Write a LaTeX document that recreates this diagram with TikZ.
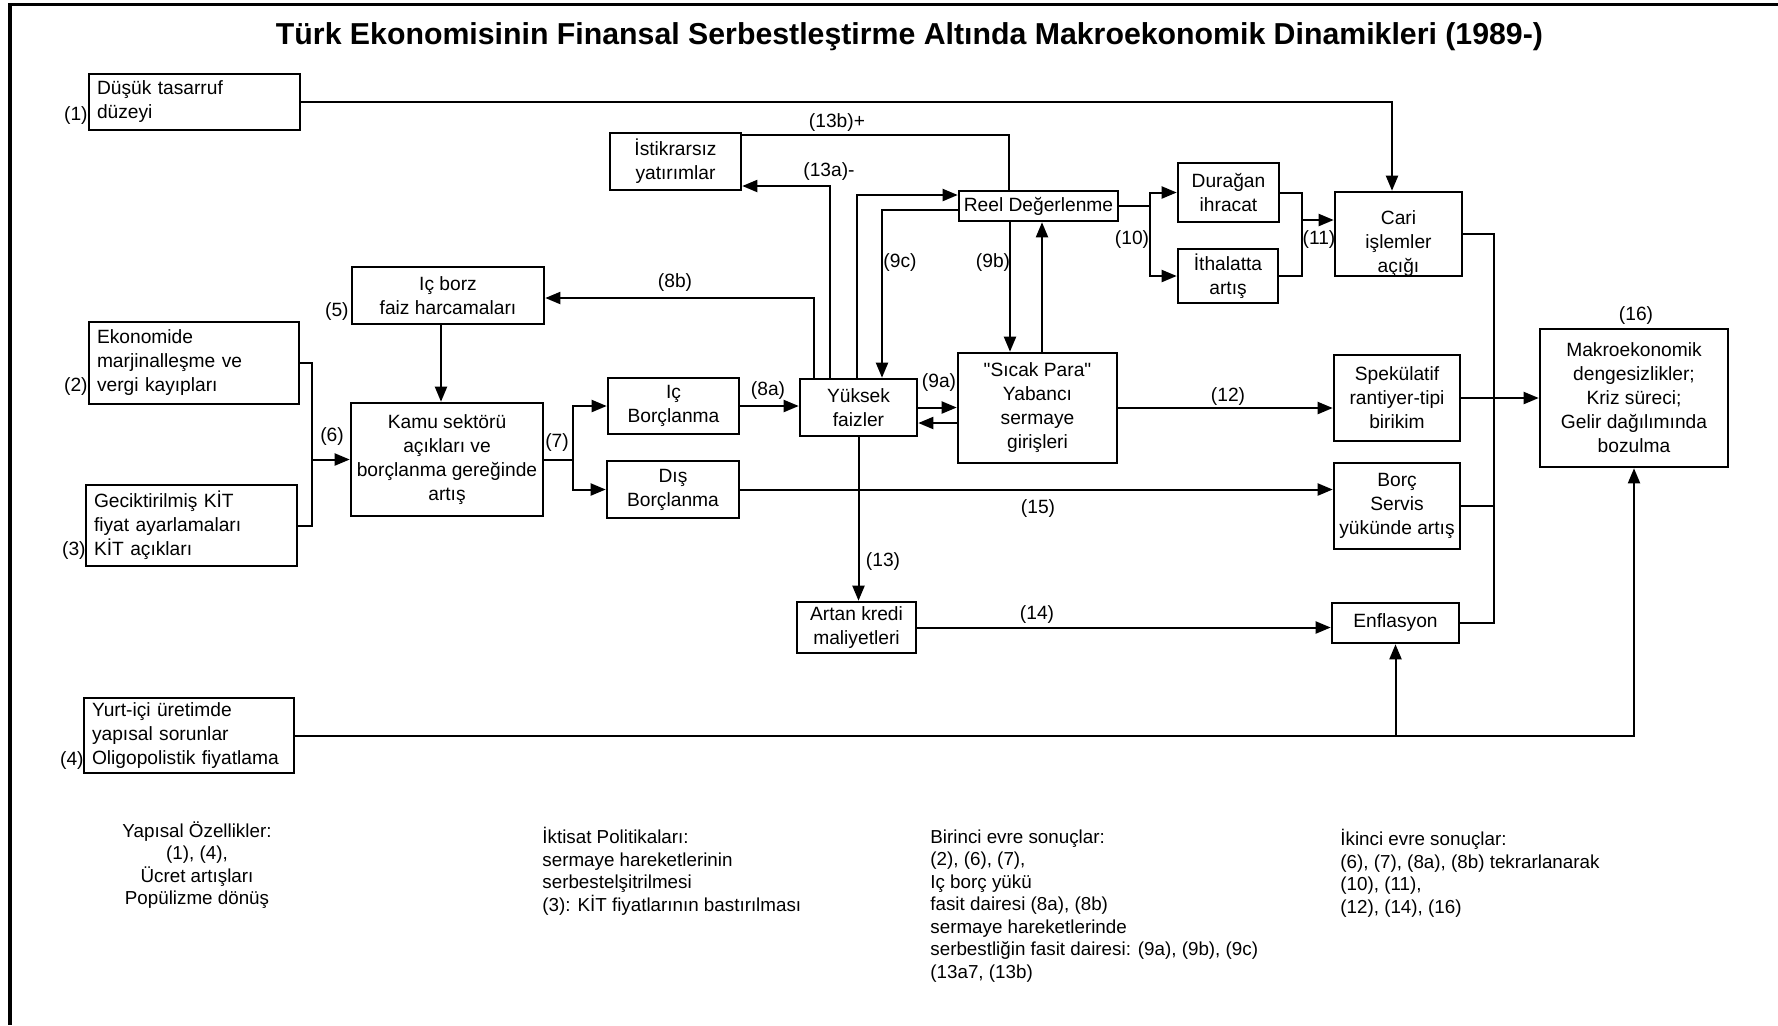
\documentclass[tikz,border=0pt]{standalone}
\usepackage{fontspec}
\setmainfont{Liberation Sans}
\usepackage{graphicx}
\usetikzlibrary{arrows.meta,calc}
\begin{document}
\begin{tikzpicture}[x=0.5pt,y=-0.5pt,
  box/.style={draw, line width=1.3pt, inner sep=1pt, align=center, font=\fontsize{9.6}{12}\selectfont},
  lbox/.style={box, align=left, inner xsep=4pt},
  conn/.style={line width=1pt},
  arr/.style={conn, -{Triangle[length=7.5pt,width=6pt]}},
  lab/.style={font=\fontsize{9.6}{12}\selectfont, inner sep=0pt},
  note/.style={font=\fontsize{9.4}{11.25}\selectfont, inner sep=0pt},
]
\useasboundingbox (0,0) rectangle (1778,1025);
\draw[line width=1.5pt] (1778,4.5) -- (8,4.5);
\draw[line width=2pt] (10,3) -- (10,1025);

\node[inner sep=0pt] (title) at (909.5,37) {\resizebox{633.5pt}{!}{\bfseries Türk Ekonomisinin Finansal Serbestleştirme Altında Makroekonomik Dinamikleri (1989-)}};

% boxes
\node[lbox, minimum width=105.5pt, text width=97.5pt, minimum height=28pt] (dusuk) at (194.5,102) {Düşük tasarruf\\düzeyi};
\node[lbox, minimum width=105pt, text width=97pt, minimum height=41pt] (ekon) at (194,363) {Ekonomide\\marjinalleşme ve\\vergi kayıpları};
\node[lbox, minimum width=105.5pt, text width=97.5pt, minimum height=40.5pt] (gecik) at (191.5,525.5) {Geciktirilmiş KİT\\fiyat ayarlamaları\\KİT açıkları};
\node[lbox, minimum width=105pt, text width=97pt, minimum height=37.5pt] (yurt) at (189,735.5) {Yurt-içi üretimde\\yapısal sorunlar\\Oligopolistik fiyatlama};
\node[box, minimum width=96pt, minimum height=28.5pt] (icborz) at (448,295.5) {Iç borz\\faiz harcamaları};
\node[box, minimum width=96pt, minimum height=56.5pt] (kamu) at (447,459.5) {Kamu sektörü\\açıkları ve\\borçlanma gereğinde\\artış};
\node[box, minimum width=65.5pt, minimum height=28pt] (icborc) at (673.5,406) {Iç\\Borçlanma};
\node[box, minimum width=66pt, minimum height=28.5pt] (dis) at (673,489.5) {Dış\\Borçlanma};
\node[box, minimum width=58.5pt, minimum height=28.5pt] (yuksek) at (858.5,407.5) {Yüksek\\faizler};
\node[box, minimum width=65.5pt, minimum height=28.5pt] (istik) at (675.5,161.5) {İstikrarsız\\yatırımlar};
\node[box, minimum width=79.5pt, minimum height=15pt] (reel) at (1038.5,206) {Reel Değerlenme};
\node[box, minimum width=79.5pt, minimum height=55pt] (sicak) at (1037.5,408) {\textquotedbl Sıcak Para\textquotedbl\\Yabancı\\sermaye\\girişleri};
\node[box, minimum width=50.5pt, minimum height=29.5pt] (duragan) at (1228.5,192.5) {Durağan\\ihracat};
\node[box, minimum width=50pt, minimum height=27pt] (ithal) at (1228,276) {İthalatta\\artış};
\node[box, minimum width=63.5pt, minimum height=42pt] (cari) at (1398.5,234) {};
\node[lab, align=center] (caritxt) at (1398.5,244) {Cari\\işlemler\\açığı};
\node[box, minimum width=63pt, minimum height=43pt] (spek) at (1397,398) {Spekülatif\\rantiyer-tipi\\birikim};
\node[box, minimum width=63pt, minimum height=43pt] (borc) at (1397,506) {Borç\\Servis\\yükünde artış};
\node[box, minimum width=63.5pt, minimum height=20pt] (enf) at (1395.5,623) {Enflasyon};
\node[box, minimum width=59.5pt, minimum height=25.5pt] (artan) at (856.5,627.5) {Artan kredi\\maliyetleri};
\node[box, minimum width=94pt, minimum height=69pt] (makro) at (1634,398) {Makroekonomik\\dengesizlikler;\\Kriz süreci;\\Gelir dağılımında\\bozulma};

% number labels
\node[lab, anchor=east] (l1) at (88,116) {(1)};
\node[lab, anchor=east] (l2) at (88,387) {(2)};
\node[lab, anchor=east] (l3) at (86,551) {(3)};
\node[lab, anchor=east] (l4) at (84,761) {(4)};
\node[lab, anchor=east] (l5) at (349,312) {(5)};
\node[lab] (l6) at (332,437) {(6)};
\node[lab] (l7) at (557,443) {(7)};
\node[lab] (l8a) at (768,391) {(8a)};
\node[lab] (l8b) at (675,283) {(8b)};
\node[lab] (l9a) at (939,383) {(9a)};
\node[lab] (l9b) at (993,263) {(9b)};
\node[lab] (l9c) at (900,263) {(9c)};
\node[lab] (l10) at (1132,240) {(10)};
\node[lab] (l11) at (1319,240) {(11)};
\node[lab] (l12) at (1228,397) {(12)};
\node[lab] (l13) at (883,562) {(13)};
\node[lab] (l14) at (1037,615) {(14)};
\node[lab] (l15) at (1038,509) {(15)};
\node[lab] (l16) at (1636,316) {(16)};
\node[lab] (l13a) at (829,172) {(13a)-};
\node[lab] (l13b) at (837,123) {(13b)+};

% connectors
\draw[arr] (dusuk.east) -| ($(cari.north)+(-6.5,0)$);
\draw[conn] ($(reel.north)+(-29.5,0)$) |- ($(istik.north east)+(0,3)$);
\draw[arr] ($(yuksek.north)+(-28.5,0)$) |- ($(istik.east)+(0,24.5)$);
\draw[arr] ($(yuksek.north)+(-44.5,0)$) |- ($(icborz.east)+(0,2.5)$);
\draw[arr] ($(yuksek.north)+(-1.5,0)$) |- ($(reel.west)+(0,-11)$);
\draw[arr] ($(reel.west)+(0,4)$) -| ($(yuksek.north)+(23.5,0)$);
\draw[arr] ($(reel.south)+(-28.5,0)$) -- ($(sicak.north)+(-27.5,0)$);
\draw[arr] ($(sicak.north)+(4.5,0)$) -- ($(reel.south)+(3.5,0)$);
\draw[arr] (yuksek.east) -- (yuksek.east -| sicak.west);
\coordinate (s9) at ($(sicak.west)+(0,15)$);
\draw[arr] (s9) -- (s9 -| yuksek.east);
\draw[arr] (icborc.east) -- (icborc.east -| yuksek.west);
\draw[arr] (sicak.east) -- (sicak.east -| spek.west);
\draw[arr] (dis.east) -- (dis.east -| borc.west);
\draw[arr] (artan.east) -- (artan.east -| enf.west);
\draw[arr] (yuksek.south) -- (yuksek.south |- artan.north);
\coordinate (j7) at ($(kamu.east)+(29,0)$);
\draw[conn] (kamu.east) -- (j7);
\draw[arr] (j7) |- (icborc.west);
\draw[arr] (j7) |- (dis.west);
\coordinate (j6) at ($(kamu.west)+(-38,0)$);
\draw[conn] (ekon.east) -| (j6) |- (gecik.east);
\draw[arr] (j6) -- (kamu.west);
\draw[arr] ($(icborz.south)+(-7,0)$) -- ($(kamu.north)+(-6,0)$);
\coordinate (j10) at ($(reel.east)+(31,0)$);
\draw[conn] (reel.east) -- (j10);
\draw[arr] (j10) |- (duragan.west);
\draw[arr] (j10) |- (ithal.west);
\coordinate (j11) at ($(duragan.east)+(22,0)$);
\draw[conn] (duragan.east) -- (j11) -- (j11 |- ithal.east) -- (ithal.east);
\coordinate (k11) at ($(j11 |- cari.west)+(0,-14)$);
\draw[arr] (k11) -- (k11 -| cari.west);
\coordinate (c1) at ($(cari.east)+(31,0)$);
\draw[conn] (cari.east) -- (c1) -- (c1 |- enf.east) -- (enf.east);
\draw[conn] (borc.east) -- (borc.east -| c1);
\draw[arr] (spek.east) -- (spek.east -| makro.west);
\draw[arr] (yurt.east) -| (makro.south);
\draw[arr] (yurt.east -| enf.south) -- (enf.south);

% notes
\node[note, anchor=north, align=center] (yap) at (197,821) {Yapısal Özellikler:\\(1), (4),\\Ücret artışları\\Popülizme dönüş};
\node[note, anchor=north west, align=left] (ikt) at (542,827) {İktisat Politikaları:\\sermaye hareketlerinin\\serbestelşitrilmesi\\(3): KİT fiyatlarının bastırılması};
\node[note, anchor=north west, align=left] (bir) at (930,829) {Birinci evre sonuçlar:\\(2), (6), (7),\\Iç borç yükü\\fasit dairesi (8a), (8b)\\sermaye hareketlerinde\\serbestliğin fasit dairesi: (9a), (9b), (9c)\\(13a7, (13b)};
\node[note, anchor=north west, align=left] (iki) at (1340,829) {İkinci evre sonuçlar:\\(6), (7), (8a), (8b) tekrarlanarak\\(10), (11),\\(12), (14), (16)};
\end{tikzpicture}
\end{document}
